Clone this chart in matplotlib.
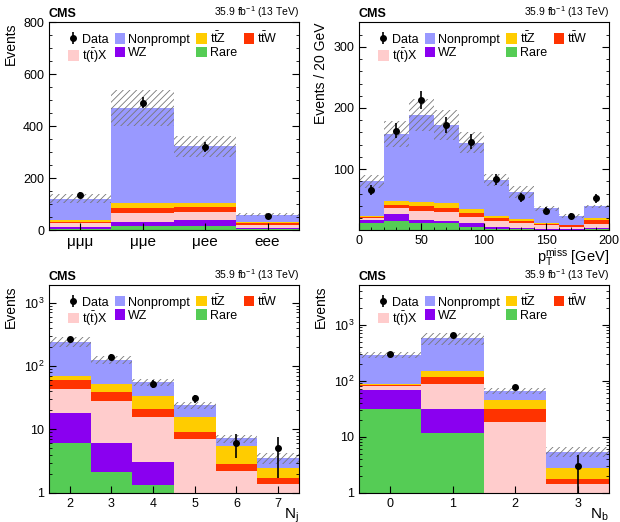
import numpy as np
import matplotlib
matplotlib.use('Agg')
import matplotlib.pyplot as plt
from matplotlib.ticker import MultipleLocator, FixedLocator, FixedFormatter, LogLocator, NullFormatter

plt.rcParams['font.family'] = ['Liberation Sans', 'DejaVu Sans']
plt.rcParams['mathtext.fontset'] = 'custom'
plt.rcParams['mathtext.rm'] = 'Liberation Sans'
plt.rcParams['mathtext.it'] = 'Liberation Sans:italic'
plt.rcParams['mathtext.bf'] = 'Liberation Sans:bold'
plt.rcParams['hatch.linewidth'] = 0.6

# process names and colours (stack order, bottom to top)
procs = ['Rare', 'WZ', r't($\bar{\mathrm{t}}$)X', r't$\bar{\mathrm{t}}$W', r't$\bar{\mathrm{t}}$Z', 'Nonprompt']
colors = ['#55cc55', '#8a00f0', '#ffcccc', '#ff3300', '#ffcc00', '#9999ff']

# --- lepton flavour ---
flav_labels = ['\u03bc\u03bc\u03bc', '\u03bc\u03bce', '\u03bcee', 'eee']
flav_rare = [6, 15, 18, 3]
flav_wz = [8, 18, 23, 7]
flav_ttx = [12, 34, 31, 10]
flav_ttw = [7, 19, 16, 6]
flav_ttz = [8, 19, 17, 6]
flav_nonprompt = [81, 365, 218, 28]
flav_unc = [16, 68, 40, 6]
flav_data = [137, 491, 320, 55]

# --- missing pT, 20 GeV bins ---
met_edges = [0, 20, 40, 60, 80, 100, 120, 140, 160, 180, 200]
met_rare = [12, 15, 12, 11, 5, 2, 2, 1, 1, 2]
met_wz = [5, 12, 5, 4, 6, 3, 2, 1, 1, 2]
met_ttx = [3, 10, 15, 15, 10, 10, 7, 6, 4, 6]
met_ttw = [2, 5, 7, 6, 7, 5, 4, 2, 2, 7]
met_ttz = [1, 6, 7, 8, 7, 4, 3, 2, 1, 3]
met_nonprompt = [57, 109, 143, 128, 108, 58, 45, 24, 14, 19]
met_unc = [11, 21, 26, 24, 17, 10, 10, 4, 3, 3]
met_data = [66, 163, 213, 172, 145, 83, 54, 32, 24, 52]

# --- number of jets ---
nj_bins = [2, 3, 4, 5, 6, 7]
nj_rare = [6.2, 2.15, 1.32, 0, 0, 0]
nj_wz = [11.8, 3.85, 1.78, 0, 0, 0]
nj_ttx = [25, 22, 12.4, 7.0, 2.2, 1.36]
nj_ttw = [17, 11, 5.5, 2.2, 0.6, 0.33]
nj_ttz = [10, 14, 12.7, 6.7, 2.7, 0.79]
nj_nonprompt = [173, 72, 21.3, 8.4, 1.7, 1.09]
nj_unc = [45, 19, 7, 3.1, 1.0, 0.7]
nj_data = [265, 141, 53, 31, 6, 5]
nj_err_lo = [16, 12, 7.3, 5, 2.5, 3.3]
nj_err_hi = [16, 12, 7.3, 4, 2.4, 2.7]

# --- number of b jets ---
nb_bins = [0, 1, 2, 3]
nb_rare = [30.8, 11.5, 0, 0]
nb_wz = [37, 19.3, 0, 0]
nb_ttx = [13, 55, 18.5, 1.43]
nb_ttw = [4, 32, 12.3, 0.33]
nb_ttz = [2, 33, 14.2, 0.96]
nb_nonprompt = [201, 420, 21, 2.7]
nb_unc = [33, 131, 9, 1.1]
nb_data = [300, 650, 76, 3]
nb_err_lo = [17, 25, 9, 2.5]
nb_err_hi = [17, 25, 9, 1.7]


def draw_panel(ax, left, width, stack, unc, data, err_lo, err_hi, centers):
    bottom = np.zeros(len(left))
    for vals, col, name in zip(stack, colors, procs):
        ax.bar(left, vals, width=width, bottom=bottom, align='edge',
               color=col, linewidth=0, label=name)
        bottom = bottom + np.array(vals)
    unc = np.array(unc)
    ax.bar(left, 2 * unc, width=width, bottom=bottom - unc, align='edge',
           fill=False, hatch='/////', edgecolor='#777777', linewidth=0)
    ax.errorbar(centers, data, yerr=[err_lo, err_hi], fmt='o', color='black',
                markersize=4, elinewidth=1.2, capsize=0, label='Data')
    # legend: column-wise order to get the CMS layout
    handles, labels = ax.get_legend_handles_labels()
    hd = dict(zip(labels, handles))
    order = ['Data', procs[2], 'Nonprompt', 'WZ', procs[4], 'Rare', procs[3]]
    ax.legend([hd[k] for k in order], order, loc='upper left',
              bbox_to_anchor=(0.056, 0.985), ncol=4, frameon=False, fontsize=9,
              handlelength=0.85, handleheight=0.9, handletextpad=0.25,
              columnspacing=0.5, labelspacing=0.05, borderaxespad=0)
    ax.text(0.0, 1.012, 'CMS', transform=ax.transAxes, ha='left', va='bottom',
            fontsize=9, fontweight='bold')
    ax.text(1.0, 1.012, r'35.9 fb$^{-1}$ (13 TeV)', transform=ax.transAxes,
            ha='right', va='bottom', fontsize=7.5)
    ax.tick_params(which='both', direction='in', right=True, labelsize=9)
    ax.tick_params(which='major', length=5)
    ax.tick_params(which='minor', length=2.5)


fig = plt.figure(figsize=(6.2, 5.22), dpi=100)
ax1 = fig.add_axes([0.079, 0.559, 0.403, 0.398])
ax2 = fig.add_axes([0.579, 0.559, 0.403, 0.398])
ax3 = fig.add_axes([0.079, 0.056, 0.403, 0.398])
ax4 = fig.add_axes([0.579, 0.056, 0.403, 0.398])

# top left: flavour
x = np.arange(len(flav_labels))
draw_panel(ax1, x - 0.5, 1.0,
           [flav_rare, flav_wz, flav_ttx, flav_ttw, flav_ttz, flav_nonprompt],
           flav_unc, flav_data, np.sqrt(flav_data), np.sqrt(flav_data), x)
ax1.set_xlim(-0.5, 3.5)
ax1.set_ylim(0, 800)
ax1.xaxis.set_major_locator(FixedLocator(x))
ax1.set_xticklabels(flav_labels, fontsize=11)
ax1.yaxis.set_major_locator(MultipleLocator(200))
ax1.yaxis.set_minor_locator(MultipleLocator(50))
ax1.set_ylabel('Events', fontsize=10, loc='top')

# top right: missing pT
edges = np.array(met_edges)
draw_panel(ax2, edges[:-1], 20,
           [met_rare, met_wz, met_ttx, met_ttw, met_ttz, met_nonprompt],
           met_unc, met_data, np.sqrt(met_data), np.sqrt(met_data),
           0.5 * (edges[:-1] + edges[1:]))
ax2.set_xlim(0, 200)
ax2.set_ylim(0, 340)
ax2.xaxis.set_major_locator(MultipleLocator(50))
ax2.xaxis.set_minor_locator(MultipleLocator(10))
ax2.yaxis.set_major_locator(FixedLocator([100, 200, 300]))
ax2.yaxis.set_minor_locator(MultipleLocator(20))
ax2.set_ylabel('Events / 20 GeV', fontsize=10, loc='top')
ax2.set_xlabel(r'p$_\mathrm{T}^\mathrm{miss}$ [GeV]', fontsize=10.5, loc='right', labelpad=-1)

# log panels
for ax, bins, stack, unc, data, lo, hi, ymax, lab in [
        (ax3, nj_bins, [nj_rare, nj_wz, nj_ttx, nj_ttw, nj_ttz, nj_nonprompt],
         nj_unc, nj_data, nj_err_lo, nj_err_hi, 1900, r'N$_\mathrm{j}$'),
        (ax4, nb_bins, [nb_rare, nb_wz, nb_ttx, nb_ttw, nb_ttz, nb_nonprompt],
         nb_unc, nb_data, nb_err_lo, nb_err_hi, 5100, r'N$_\mathrm{b}$')]:
    ax.set_yscale('log')
    b = np.array(bins)
    draw_panel(ax, b - 0.5, 1.0, stack, unc, data, lo, hi, b)
    ax.set_xlim(b[0] - 0.5, b[-1] + 0.5)
    ax.set_ylim(1, ymax)
    ax.xaxis.set_major_locator(FixedLocator(b))
    ax.yaxis.set_major_locator(FixedLocator([1, 10, 100, 1000]))
    ax.yaxis.set_major_formatter(FixedFormatter(['1', '10', r'10$^2$', r'10$^3$']))
    ax.yaxis.set_minor_locator(LogLocator(base=10, subs=np.arange(2, 10)))
    ax.yaxis.set_minor_formatter(NullFormatter())
    ax.set_ylabel('Events', fontsize=10, loc='top')
    ax.set_xlabel(lab, fontsize=11, loc='right', labelpad=-2)

fig.savefig('out.png', dpi=100)
